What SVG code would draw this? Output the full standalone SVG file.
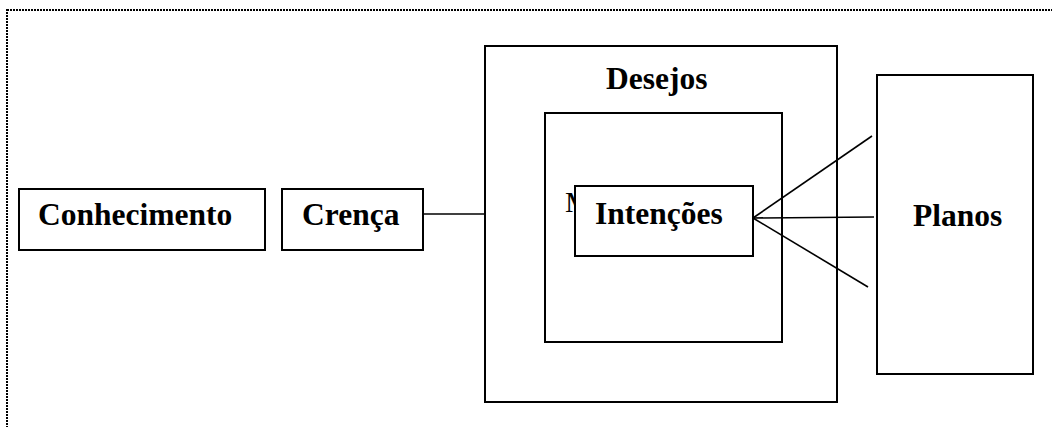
<svg xmlns="http://www.w3.org/2000/svg" width="1052" height="427" viewBox="0 0 1052 427">
<style>
.box{fill:#fff;stroke:#000;stroke-width:2}
.lbl{font-family:"Liberation Serif","Times New Roman",serif;font-weight:bold;font-size:31.5px;fill:#000}
.line{stroke:#000;stroke-width:1.6;fill:none}
</style>
<rect width="1052" height="427" fill="#fff"/>
<rect x="7" y="10" width="1060" height="430" fill="none" stroke="#000" stroke-width="2" stroke-dasharray="2,1"/>
<g id="connectors">
<line class="line" x1="423" y1="214" x2="485" y2="214"/>
</g>
<g id="conhecimento">
<rect class="box" x="19" y="189" width="246" height="61"/>
<text class="lbl" x="38" y="225">Conhecimento</text>
</g>
<g id="crenca">
<rect class="box" x="282" y="189" width="141" height="61"/>
<text class="lbl" x="302" y="225">Crença</text>
</g>
<g id="desejos">
<rect class="box" x="485" y="46" width="352" height="356"/>
<text class="lbl" x="606" y="89">Desejos</text>
</g>
<g id="metas">
<rect class="box" x="545" y="113" width="237" height="229"/>
<text x="565" y="212" font-family="Liberation Serif,'Times New Roman',serif" font-size="30" fill="#000">M</text>
</g>
<g id="intencoes">
<rect class="box" x="575" y="186" width="178" height="70"/>
<text class="lbl" x="595" y="224">Intenções</text>
</g>
<g id="planos">
<rect class="box" x="877" y="75" width="156" height="299"/>
<text class="lbl" x="913" y="226">Planos</text>
</g>
<g id="connectors2">
<line class="line" x1="753" y1="218" x2="872" y2="136"/>
<line class="line" x1="753" y1="218" x2="874" y2="217"/>
<line class="line" x1="753" y1="218" x2="868" y2="287"/>
</g>
</svg>
